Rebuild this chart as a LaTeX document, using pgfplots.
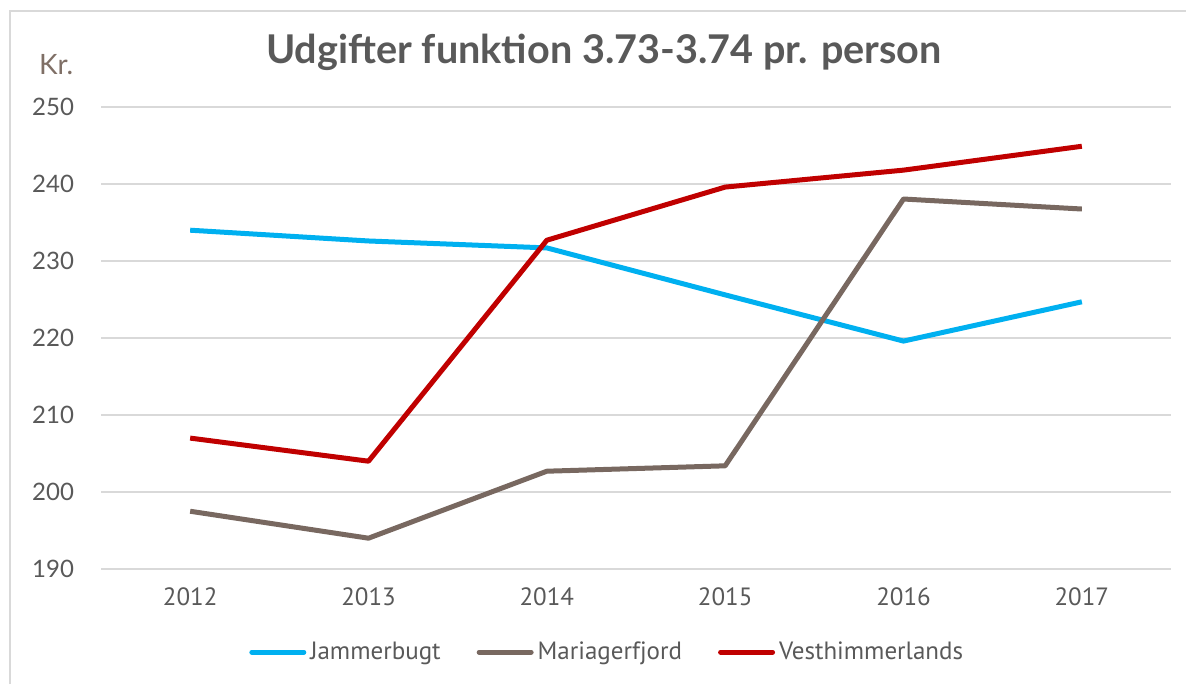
\documentclass[border=0pt]{standalone}
\usepackage{pgfplots}
\pgfplotsset{compat=1.18}
\usepackage{fontspec}
\setmainfont{Lato}
\newfontfamily\narrowfont{PT Sans}
\definecolor{jam}{HTML}{00B0F0}
\definecolor{mar}{HTML}{786860}
\definecolor{ves}{HTML}{C00000}
\definecolor{txt}{HTML}{595959}
\definecolor{grd}{HTML}{D9D9D9}
\definecolor{krc}{HTML}{7F6F66}
\begin{document}
\begin{tikzpicture}[x=1pt,y=1pt]
\path[use as bounding box] (0,0) rectangle (593,342);
\draw[grd, line width=0.8pt] (5,0) -- (5,336.5) -- (593,336.5);
\node[txt, font=\fontsize{19.8}{22}\selectfont\bfseries] at (302,316) {Udgifter funktion 3.73-3.74 pr. person};
\node[krc, font=\fontsize{14}{16}\selectfont, anchor=west] at (16,309.5) {Kr.};
\begin{axis}[
  at={(50.5pt,57.5pt)}, anchor=south west,
  scale only axis, width=535pt, height=231pt,
  xmin=-0.5, xmax=5.5, ymin=190, ymax=250,
  xtick={0,1,2,3,4,5},
  xticklabels={2012,2013,2014,2015,2016,2017},
  ytick={190,200,210,220,230,240,250},
  axis line style={draw=none},
  axis x line*=bottom,
  ymajorgrids, grid style={grd, line width=0.8pt},
  major tick length=0pt,
  tick label style={txt},
  xticklabel style={font=\narrowfont\fontsize{12.5}{14}\selectfont, yshift=-6pt},
  yticklabel style={font=\fontsize{12}{14}\selectfont, xshift=-10pt},
  /pgf/number format/assume math mode=true,
  legend columns=3,
  legend style={draw=none, fill=none, at={(0.474,-0.18)}, anchor=center,
    font=\narrowfont\fontsize{12.5}{14}\selectfont, text=txt,
    /tikz/every even column/.append style={column sep=16pt}},
  legend image code/.code={\draw[#1, line width=2.5pt, line cap=round] (0pt,0pt) -- (26pt,0pt);},
  every axis plot/.append style={line width=2.5pt, line join=round, mark=none},
]
\draw[grd, line width=0.8pt] (axis cs:-0.5,190) -- (axis cs:5.5,190);
\addplot[jam] coordinates {(0,234.0) (1,232.6) (2,231.7) (3,225.6) (4,219.6) (5,224.7)};
\addlegendentry{Jammerbugt}
\addplot[mar] coordinates {(0,197.5) (1,194.0) (2,202.7) (3,203.4) (4,238.05) (5,236.75)};
\addlegendentry{Mariagerfjord}
\addplot[ves] coordinates {(0,207.0) (1,204.0) (2,232.7) (3,239.6) (4,241.8) (5,244.9)};
\addlegendentry{Vesthimmerlands}
\end{axis}
\end{tikzpicture}
\end{document}
